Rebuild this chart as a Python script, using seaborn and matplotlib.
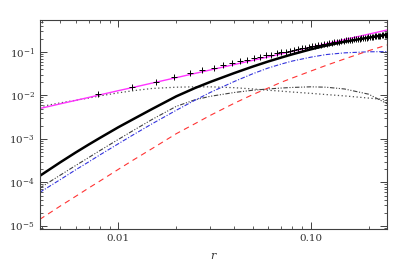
import matplotlib
matplotlib.use("Agg")
import matplotlib.pyplot as plt
import matplotlib.ticker as mticker
import seaborn as sns
import numpy as np

# r grid used for curves
r = [0.0039, 0.005, 0.006, 0.007, 0.008, 0.01, 0.012, 0.015, 0.02, 0.025, 0.03,
     0.04, 0.05, 0.06, 0.07, 0.08, 0.1, 0.12, 0.15, 0.2, 0.25]

total_black = [1.41e-4, 2.92e-4, 4.88e-4, 7.40e-4, 1.05e-3, 1.86e-3, 2.88e-3, 4.90e-3, 9.55e-3, 1.48e-2, 2.04e-2,
               3.27e-2, 4.62e-2, 6.03e-2, 7.41e-2, 8.81e-2, 0.115, 0.140, 0.172, 0.214, 0.251]
magenta = [5.01e-3, 6.43e-3, 7.71e-3, 8.99e-3, 1.03e-2, 1.29e-2, 1.54e-2, 1.93e-2, 2.57e-2, 3.21e-2, 3.85e-2,
           5.14e-2, 6.43e-2, 7.71e-2, 8.99e-2, 0.103, 0.129, 0.154, 0.193, 0.257, 0.321]
blue_dashdot = [5.89e-5, 1.17e-4, 1.95e-4, 2.95e-4, 4.27e-4, 7.76e-4, 1.26e-3, 2.24e-3, 4.57e-3, 7.76e-3, 1.17e-2,
                2.09e-2, 3.16e-2, 4.27e-2, 5.25e-2, 6.17e-2, 7.59e-2, 8.71e-2, 9.55e-2, 0.101, 0.102]
gray_dashdotdot = [7.41e-5, 1.48e-4, 2.45e-4, 3.72e-4, 5.37e-4, 9.77e-4, 1.58e-3, 2.82e-3, 5.62e-3, 7.94e-3, 9.55e-3,
                   1.17e-2, 1.32e-2, 1.41e-2, 1.48e-2, 1.53e-2, 1.58e-2, 1.55e-2, 1.41e-2, 1.07e-2, 6.46e-3]
dotted = [5.50e-3, 6.76e-3, 7.76e-3, 8.71e-3, 9.77e-3, 1.15e-2, 1.29e-2, 1.45e-2, 1.55e-2, 1.58e-2, 1.58e-2,
          1.51e-2, 1.41e-2, 1.32e-2, 1.26e-2, 1.20e-2, 1.12e-2, 1.05e-2, 9.77e-3, 8.71e-3, 7.94e-3]
red_dashed = [1.41e-5, 2.88e-5, 4.79e-5, 7.41e-5, 1.07e-4, 2.00e-4, 3.31e-4, 6.03e-4, 1.32e-3, 2.24e-3, 3.47e-3,
              6.61e-3, 1.05e-2, 1.48e-2, 2.00e-2, 2.51e-2, 3.63e-2, 4.90e-2, 6.92e-2, 0.107, 0.145]

# data points ('+' markers)
r_pts = [0.00781, 0.01172, 0.01563, 0.01953, 0.02344, 0.02734, 0.03125, 0.03516, 0.03906, 0.04297,
         0.04688, 0.05078, 0.05469, 0.05859, 0.0625, 0.06641, 0.07031, 0.07422, 0.07813, 0.08203,
         0.08594, 0.08984, 0.09375, 0.09766, 0.10156, 0.10547, 0.10938, 0.11328, 0.11719, 0.12109,
         0.125, 0.12891, 0.13281, 0.13672, 0.14063, 0.14453, 0.14844, 0.15234, 0.15625, 0.16016,
         0.16406, 0.16797, 0.17188, 0.17578, 0.17969, 0.18359, 0.1875, 0.19141, 0.19531, 0.19922,
         0.20313, 0.20703, 0.21094, 0.21484, 0.21875, 0.22266, 0.22656, 0.23047, 0.23438, 0.23828,
         0.24219, 0.24609, 0.25]
y_pts = [0.0107, 0.0158, 0.0209, 0.0269, 0.0331, 0.0389, 0.0437, 0.0501, 0.0562, 0.0617,
         0.0661, 0.0724, 0.0776, 0.0832, 0.0871, 0.0933, 0.0977, 0.102, 0.107, 0.112,
         0.117, 0.121, 0.126, 0.131, 0.135, 0.139, 0.143, 0.147, 0.151, 0.155,
         0.158, 0.162, 0.166, 0.169, 0.173, 0.177, 0.181, 0.184, 0.187, 0.190,
         0.193, 0.195, 0.199, 0.201, 0.204, 0.207, 0.210, 0.213, 0.215, 0.218,
         0.221, 0.223, 0.226, 0.229, 0.231, 0.234, 0.237, 0.239, 0.242, 0.244,
         0.247, 0.249, 0.251]

sns.set_style("ticks")
plt.rcParams['font.family'] = ['DejaVu Serif']
plt.rcParams['mathtext.fontset'] = 'dejavuserif'

fig = plt.figure(figsize=(4.07, 2.71), dpi=100)
ax = fig.add_axes([0.0975, 0.155, 0.854, 0.7694])

sns.lineplot(x=r, y=dotted, ax=ax, color='0.3', linestyle=(0, (1, 2)), linewidth=0.9, sort=False)
sns.lineplot(x=r, y=gray_dashdotdot, ax=ax, color='0.25', linestyle=(0, (4, 1.5, 1, 1.5, 1, 1.5)), linewidth=0.8, sort=False)
sns.lineplot(x=r, y=blue_dashdot, ax=ax, color='#3333dd', linestyle=(0, (4, 1.5, 1, 1.5)), linewidth=0.8, sort=False)
sns.lineplot(x=r, y=red_dashed, ax=ax, color='#ff3333', linestyle=(0, (5, 4)), linewidth=0.8, sort=False)
sns.lineplot(x=r, y=magenta, ax=ax, color='#ff33ff', linewidth=1.0, sort=False)
sns.lineplot(x=r, y=total_black, ax=ax, color='black', linewidth=1.8, sort=False)
sns.scatterplot(x=r_pts, y=y_pts, ax=ax, marker='+', s=18, color='black', linewidth=0.7, zorder=5)

ax.set_xscale('log')
ax.set_yscale('log')
ax.set_xlim(0.0039, 0.25)
ax.set_ylim(8.5e-6, 0.53)

ax.xaxis.set_major_locator(mticker.FixedLocator([0.01, 0.1]))
ax.xaxis.set_major_formatter(mticker.FixedFormatter(['0.01', '0.10']))
ax.xaxis.set_minor_locator(mticker.LogLocator(base=10, subs=np.arange(2, 10)))
ax.xaxis.set_minor_formatter(mticker.NullFormatter())
ax.yaxis.set_major_locator(mticker.LogLocator(base=10, numticks=10))
ax.yaxis.set_minor_locator(mticker.LogLocator(base=10, subs=np.arange(2, 10), numticks=10))
ax.yaxis.set_minor_formatter(mticker.NullFormatter())

ax.tick_params(which='both', direction='in', top=True, right=True, colors='0.25', labelcolor='0.2', labelsize=7.5)
ax.tick_params(which='major', length=5, width=0.7)
ax.tick_params(which='minor', length=2.5, width=0.6)
for s in ax.spines.values():
    s.set_linewidth(0.8)
    s.set_color('0.25')

ax.set_xlabel('$r$', fontsize=8, color='0.2', labelpad=6)
ax.set_ylabel('')

fig.savefig('out.png', dpi=100)
